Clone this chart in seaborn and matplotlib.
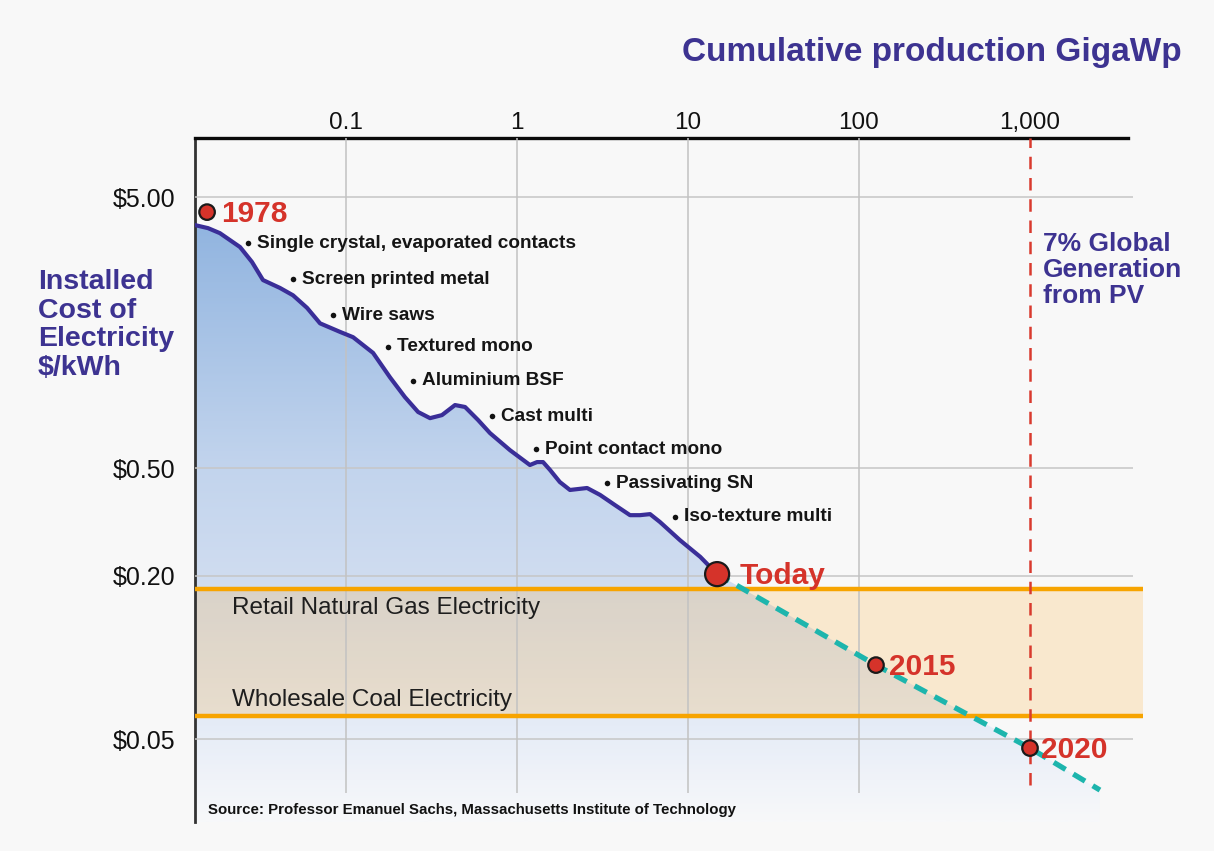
import numpy as np
import matplotlib
matplotlib.use("Agg")
import matplotlib.pyplot as plt
import seaborn as sns
import pandas as pd
from matplotlib.patches import Polygon
from matplotlib.colors import LinearSegmentedColormap

# ---------------- data ----------------
curve_x = [0.0131, 0.0156, 0.0183, 0.0240, 0.0282, 0.0327, 0.0411, 0.0490, 0.0592, 0.0705,
           0.0923, 0.110, 0.144, 0.181, 0.221, 0.264, 0.310, 0.364, 0.434, 0.497,
           0.592, 0.695, 0.910, 1.19, 1.31, 1.42, 1.56, 1.78, 2.04, 2.57,
           3.06, 3.74, 4.58, 5.24, 6.00, 6.86, 8.97, 11.8, 14.8]
curve_y = [3.94, 3.84, 3.68, 3.27, 2.88, 2.47, 2.31, 2.17, 1.95, 1.71,
           1.59, 1.52, 1.33, 1.08, 0.914, 0.805, 0.764, 0.784, 0.854, 0.840,
           0.752, 0.673, 0.582, 0.513, 0.526, 0.526, 0.492, 0.444, 0.415, 0.422,
           0.398, 0.365, 0.335, 0.335, 0.338, 0.316, 0.271, 0.235, 0.203]

proj_x = [14.8, 125.7, 1000, 2565]
proj_y = [0.203, 0.0937, 0.0463, 0.0324]

milestone_labels = ["1978", "Today", "2015", "2020"]
milestone_x = [0.0154, 14.8, 125.7, 1000]
milestone_y = [4.40, 0.203, 0.0937, 0.0463]
milestone_kind = ["small", "big", "small", "small"]

tech_labels = ["Single crystal, evaporated contacts", "Screen printed metal", "Wire saws",
               "Textured mono", "Aluminium BSF", "Cast multi", "Point contact mono",
               "Passivating SN", "Iso-texture multi"]
tech_x = [0.0267, 0.0490, 0.0840, 0.176, 0.247, 0.715, 1.29, 3.36, 8.40]
tech_y = [3.38, 2.49, 1.83, 1.40, 1.05, 0.778, 0.587, 0.440, 0.330]

x_ticks = [0.1, 1, 10, 100, 1000]
x_tick_labels = ["0.1", "1", "10", "100", "1,000"]
y_ticks = [5, 0.5, 0.2, 0.05]
y_tick_labels = ["$5.00", "$0.50", "$0.20", "$0.05"]

band_levels = [0.179, 0.0608]
band_labels = ["Retail Natural Gas Electricity", "Wholesale Coal Electricity"]
band_label_x = 0.0216
band_label_y = [0.152, 0.0697]
target_x = 1000

# ---------------- style ----------------
sns.set_theme(style="white")
BG = "#f8f8f8"
SANS = ["Liberation Sans", "DejaVu Sans"]
NARROW = ["Liberation Sans Narrow", "Liberation Sans", "DejaVu Sans"]
plt.rcParams["font.family"] = SANS
PURPLE = "#3d3391"
RED = "#d5332a"

XLIM = (0.01309, 4580)
YLIM = (0.0247, 8.26)

fig = plt.figure(figsize=(12.14, 8.51), dpi=100, facecolor=BG)
ax = fig.add_axes([195 / 1214, 1 - 822 / 851, (1143 - 195) / 1214, (822 - 138) / 851])
ax.set_facecolor(BG)
ax.set_xscale("log")
ax.set_yscale("log")
ax.set_autoscale_on(False)
ax.set_xlim(*XLIM)
ax.set_ylim(*YLIM)

# gradient fill under the curve and its projection
stops = [(0.0, "#f7f8fa"), (0.06, "#f0f3f9"), (0.14, "#e5ecf7"), (0.36, "#cfdcf0"),
         (0.52, "#c2d4ed"), (0.87, "#92b5e0"), (1.0, "#86acdc")]
cmap = LinearSegmentedColormap.from_list("fillgrad", stops)
grad = np.linspace(0, 1, 512).reshape(-1, 1)
im = ax.imshow(grad, extent=[0, 1, 0, 1], transform=ax.transAxes, origin="lower",
               aspect="auto", cmap=cmap, zorder=1, interpolation="bilinear")
poly_x = list(curve_x) + list(proj_x[1:]) + [proj_x[-1], curve_x[0]]
poly_y = list(curve_y) + list(proj_y[1:]) + [YLIM[0], YLIM[0]]
clip = Polygon(np.column_stack([poly_x, poly_y]), closed=True, transform=ax.transData)
im.set_clip_path(clip)
ax.set_xlim(*XLIM)
ax.set_ylim(*YLIM)

# band between coal and gas
ax.axhspan(band_levels[1], band_levels[0], color="#ffa51e", alpha=0.19, lw=0, zorder=2)

# gridlines
ax.hlines(y_ticks, XLIM[0], 4000, color="#c6c6c6", lw=1.1, zorder=3)
ax.vlines(x_ticks[:-1], 0.0316, YLIM[1], color="#c2c2c2", lw=1.1, zorder=3)
ax.vlines([target_x], 0.0338, YLIM[1], color="#d93a2e", lw=1.8,
          linestyles=[(0, (5, 3.5))], zorder=5)

for lvl in band_levels:
    ax.axhline(lvl, color="#f7a400", lw=3.2, zorder=4)

# curve and projection
sns.lineplot(x=curve_x, y=curve_y, ax=ax, color="#3a2e98", linewidth=3.0,
             sort=False, zorder=6, estimator=None, solid_joinstyle="round",
             solid_capstyle="round")
sns.lineplot(x=proj_x, y=proj_y, ax=ax, color="#1db5ad", linewidth=3.8,
             linestyle=(0, (2.6, 1.7)), sort=False, zorder=5, estimator=None)

# technology dots
sns.scatterplot(x=tech_x, y=tech_y, ax=ax, s=16, color="#111111", linewidth=0, zorder=8)
for lab, x, y in zip(tech_labels, tech_x, tech_y):
    ax.annotate(lab, (x, y), xytext=(6.5, 0), textcoords="offset points",
                ha="left", va="center", fontsize=13.7, fontweight="bold",
                family=NARROW, color="#151515", zorder=9)

# milestone dots
mdf = pd.DataFrame({"x": milestone_x, "y": milestone_y, "kind": milestone_kind})
sns.scatterplot(data=mdf, x="x", y="y", size="kind", sizes={"big": 300, "small": 125},
                color=RED, edgecolor="#1a1a1a", linewidth=1.6, legend=False, ax=ax, zorder=9)
offsets = [10, 16, 9.5, 8]
for lab, x, y, off in zip(milestone_labels, milestone_x, milestone_y, offsets):
    ax.annotate(lab, (x, y), xytext=(off, -1.5), textcoords="offset points",
                ha="left", va="center", fontsize=21.5, fontweight="bold",
                family=NARROW, color=RED, zorder=10)

# band labels
for lab, y in zip(band_labels, band_label_y):
    ax.text(band_label_x, y, lab, fontsize=17.5, color="#1e1e1e", va="center",
            ha="left", family=SANS, zorder=7)

# axes styling
ax.xaxis.tick_top()
ax.set_xticks(x_ticks)
ax.set_xticklabels(x_tick_labels)
ax.set_yticks(y_ticks)
ax.set_yticklabels(y_tick_labels)
ax.minorticks_off()
ax.tick_params(axis="x", which="both", length=0, pad=3, labelsize=17.5, labelcolor="#111111")
ax.tick_params(axis="y", which="both", length=0, pad=14, labelsize=18, labelcolor="#111111")
ax.grid(False)
for side in ["right", "bottom"]:
    ax.spines[side].set_visible(False)
ax.spines["top"].set_color("#0a0a0a")
ax.spines["top"].set_linewidth(2.4)
ax.spines["top"].set_bounds(XLIM[0], 3742)
ax.spines["left"].set_color("#333333")
ax.spines["left"].set_linewidth(2.0)
ax.set_xlabel("")
ax.set_ylabel("")

# figure texts
fig.text(682 / 1214, 1 - 53 / 851, "Cumulative production GigaWp", fontsize=24,
         fontweight="bold", color=PURPLE, ha="left", va="center")
fig.text(38 / 1214, 1 - 325 / 851, "Installed\nCost of\nElectricity\n$/kWh", fontsize=20.5,
         fontweight="bold", color=PURPLE, ha="left", va="center", linespacing=1.14)
fig.text(1043 / 1214, 1 - 270 / 851, "7% Global\nGeneration\nfrom PV", fontsize=19,
         fontweight="bold", color=PURPLE, ha="left", va="center", linespacing=1.1)
fig.text(208 / 1214, 1 - 810 / 851,
         "Source: Professor Emanuel Sachs, Massachusetts Institute of Technology",
         fontsize=10.8, fontweight="bold", family=NARROW, color="#111111", ha="left", va="center")

fig.savefig("out.png", dpi=100, facecolor=BG)
